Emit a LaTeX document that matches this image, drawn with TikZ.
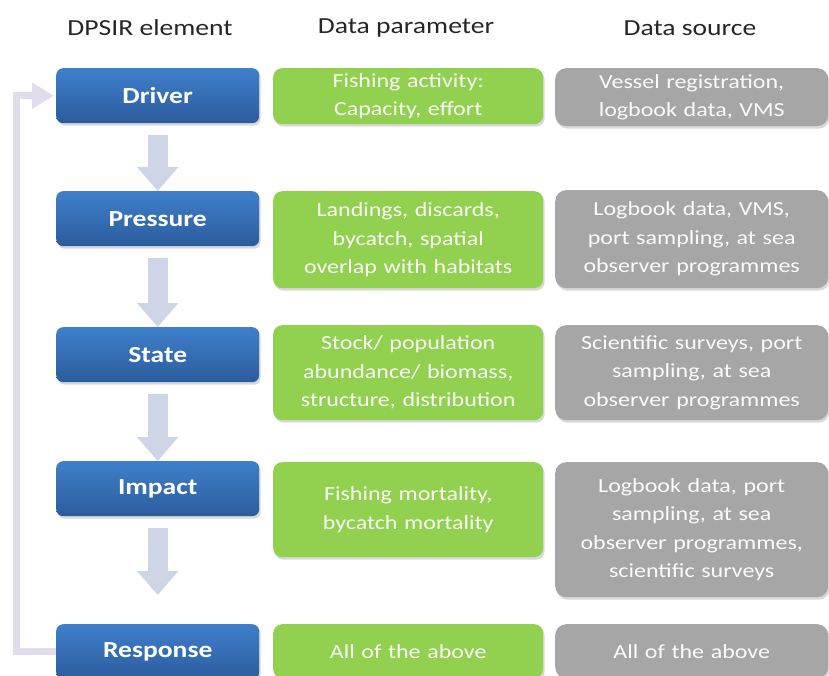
\documentclass[tikz,border=0pt]{standalone}
\usepackage{fontspec}
\setmainfont{Carlito}[FakeStretch=1.2]
\usetikzlibrary{arrows.meta, shadows}

\definecolor{elemtop}{RGB}{62,127,203}
\definecolor{elembot}{RGB}{44,92,157}
\definecolor{paramgreen}{RGB}{146,208,80}
\definecolor{sourcegray}{RGB}{166,166,166}
\definecolor{flowblue}{RGB}{205,213,230}
\definecolor{backlilac}{RGB}{226,221,236}

\begin{document}
\begin{tikzpicture}[x=1pt, y=-1pt,
    head/.style={font=\fontsize{23}{27}\selectfont, text=black!85},
    elem/.style={anchor=north west, rounded corners=7pt,
        top color=elemtop, bottom color=elembot,
        drop shadow={shadow xshift=1.5pt, shadow yshift=-2.5pt, opacity=0.3},
        minimum width=203pt, minimum height=55pt, inner sep=0pt,
        text=white, font=\fontsize{23}{27}\selectfont\bfseries},
    param/.style={anchor=north west, rounded corners=9pt, fill=paramgreen,
        drop shadow={shadow xshift=1.5pt, shadow yshift=-2.5pt, opacity=0.3},
        text width=270pt, align=center, inner sep=0pt,
        text=white!95!paramgreen, font=\fontsize{20}{28.5}\selectfont},
    source/.style={anchor=north west, rounded corners=11pt, fill=sourcegray,
        drop shadow={shadow xshift=1.5pt, shadow yshift=-2.5pt, opacity=0.3},
        text width=273pt, align=center, inner sep=0pt,
        text=white!95!sourcegray, font=\fontsize{20}{28.5}\selectfont},
    flow/.style={draw=flowblue, line width=20pt,
        -{Triangle[width=40pt, length=24pt]}, shorten <=12pt},
    back/.style={draw=backlilac, line width=7pt,
        -{Triangle[width=25pt, length=22pt]}, shorten >=2pt}
]
    \useasboundingbox (0,0) rectangle (829,676);

    % column headings
    \node[head] (hdelem) at (150,28) {DPSIR element};
    \node[head] (hdpar)  at (406,28) {Data parameter};
    \node[head] (hdsrc)  at (690,28) {Data source};

    % DPSIR elements
    \node[elem] (drv) at (56,68)  {Driver};
    \node[elem] (prs) at (56,191) {Pressure};
    \node[elem] (sta) at (56,327) {State};
    \node[elem] (imp) at (56,461) {Impact};
    \node[elem] (rsp) at (56,624) {Response};

    % data parameters
    \node[param, minimum height=56pt] (drvpar) at (273,68)
        {Fishing activity:\\ Capacity, effort};
    \node[param, minimum height=97pt] (prspar) at (273,191)
        {Landings, discards,\\ bycatch, spatial\\ overlap with habitats};
    \node[param, minimum height=95pt] (stapar) at (273,325)
        {Stock/ population\\ abundance/ biomass,\\ structure, distribution};
    \node[param, minimum height=95pt] (imppar) at (273,462)
        {Fishing mortality,\\ bycatch mortality};
    \node[param, minimum height=54pt] (rsppar) at (273,624)
        {All of the above};

    % data sources
    \node[source, minimum height=58pt] (drvsrc) at (555,68)
        {Vessel registration,\\ logbook data, VMS};
    \node[source, minimum height=98pt] (prssrc) at (555,190)
        {Logbook data, VMS,\\ port sampling, at sea\\ observer programmes};
    \node[source, minimum height=95pt] (stasrc) at (555,325)
        {Scientific surveys, port\\ sampling, at sea\\ observer programmes};
    \node[source, minimum height=135pt] (impsrc) at (555,462)
        {Logbook data, port\\ sampling, at sea\\ observer programmes,\\ scientific surveys};
    \node[source, minimum height=54pt] (rspsrc) at (555,624)
        {All of the above};

    % chain and feedback
    \draw[flow] (drv) -- (prs);
    \draw[flow] (prs) -- (sta);
    \draw[flow] (sta) -- (imp);
    \draw[flow, shorten >=29pt] (imp) -- (rsp);
    \draw[back] (rsp.west) -- ++(-40,0) |- (drv.west);
\end{tikzpicture}
\end{document}
